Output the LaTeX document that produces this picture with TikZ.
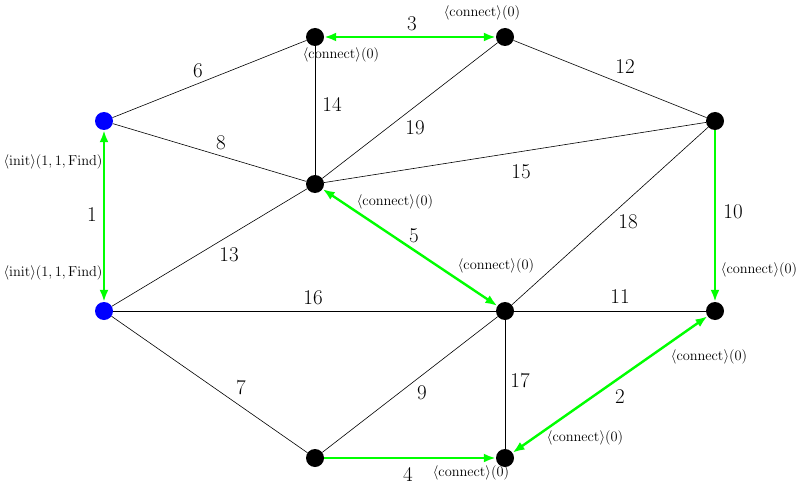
\documentclass[tikz,border=0pt]{standalone}
\usetikzlibrary{arrows.meta}
\begin{document}
\begin{tikzpicture}[x=1pt,y=-1pt,
  vtx/.style={circle,fill=black,inner sep=0pt,minimum size=18pt},
  bvtx/.style={circle,fill=blue,inner sep=0pt,minimum size=18pt},
  edge/.style={draw=black,line width=0.6pt},
  gedge/.style={draw=green,line width=2.4pt},
  elab/.style={font=\fontsize{21}{24}\selectfont,inner sep=0pt},
  mlab/.style={font=\fontsize{13.4}{15}\selectfont,inner sep=0pt}]
\useasboundingbox (0,0) rectangle (797,484);
\node[bvtx] (A) at (104,121) {};
\node[bvtx] (B) at (104,311) {};
\node[vtx] (C) at (315,37) {};
\node[vtx] (D) at (505,37) {};
\node[vtx] (E) at (715,121) {};
\node[vtx] (F) at (315,184) {};
\node[vtx] (G) at (505,311) {};
\node[vtx] (H) at (715,311) {};
\node[vtx] (I) at (315,458) {};
\node[vtx] (J) at (505,458) {};
% black edges
\draw[edge] (A) -- (C);
\draw[edge] (A) -- (F);
\draw[edge] (C) -- (F);
\draw[edge] (D) -- (F);
\draw[edge] (D) -- (E);
\draw[edge] (E) -- (F);
\draw[edge] (E) -- (G);
\draw[edge] (F) -- (B);
\draw[edge] (B) -- (G);
\draw[edge] (G) -- (H);
\draw[edge] (B) -- (I);
\draw[edge] (G) -- (I);
\draw[edge] (G) -- (J);
% green edges
\draw[gedge,{Latex[length=12pt,width=9pt]}-{Latex[length=12pt,width=9pt]}] (A) -- (B);
\draw[gedge,{Latex[length=12pt,width=9pt]}-{Latex[length=12pt,width=9pt]}] (C) -- (D);
\draw[gedge,{Latex[length=12pt,width=9pt]}-{Latex[length=12pt,width=9pt]}] (F) -- (G);
\draw[gedge,-{Latex[length=12pt,width=9pt]}] (E) -- (H);
\draw[gedge,{Latex[length=12pt,width=9pt]}-{Latex[length=12pt,width=9pt]}] (H) -- (J);
\draw[gedge,-{Latex[length=12pt,width=9pt]}] (I) -- (J);
% edge labels
\node[elab] (l6) at (198,71) {6};
\node[elab] (l8) at (221,143) {8};
\node[elab] (l14) at (332,104) {14};
\node[elab] (l19) at (415,128) {19};
\node[elab] (l3) at (412,24) {3};
\node[elab] (l12) at (625,67) {12};
\node[elab] (l15) at (521,172) {15};
\node[elab] (l10) at (733,212) {10};
\node[elab] (l18) at (628,222) {18};
\node[elab] (l5) at (414,236) {5};
\node[elab] (l13) at (229,255) {13};
\node[elab] (l1) at (92,215) {1};
\node[elab] (l16) at (313,298) {16};
\node[elab] (l11) at (620,297) {11};
\node[elab] (l7) at (241,388) {7};
\node[elab] (l9) at (422,393) {9};
\node[elab] (l17) at (520,381) {17};
\node[elab] (l2) at (620,397) {2};
\node[elab] (l4) at (408,474) {4};
% message labels
\node[mlab] (m1) at (482,13) {$\langle\mathrm{connect}\rangle(0)$};
\node[mlab] (m2) at (341,55) {$\langle\mathrm{connect}\rangle(0)$};
\node[mlab] (m3) at (53,162) {$\langle\mathrm{init}\rangle(1,1,\mathrm{Find})$};
\node[mlab] (m4) at (53,273) {$\langle\mathrm{init}\rangle(1,1,\mathrm{Find})$};
\node[mlab] (m5) at (395,202) {$\langle\mathrm{connect}\rangle(0)$};
\node[mlab] (m6) at (496,266) {$\langle\mathrm{connect}\rangle(0)$};
\node[mlab] (m7) at (759,270) {$\langle\mathrm{connect}\rangle(0)$};
\node[mlab] (m8) at (709,357) {$\langle\mathrm{connect}\rangle(0)$};
\node[mlab] (m9) at (585,438) {$\langle\mathrm{connect}\rangle(0)$};
\node[mlab] (m10) at (471,473) {$\langle\mathrm{connect}\rangle(0)$};
\end{tikzpicture}
\end{document}
